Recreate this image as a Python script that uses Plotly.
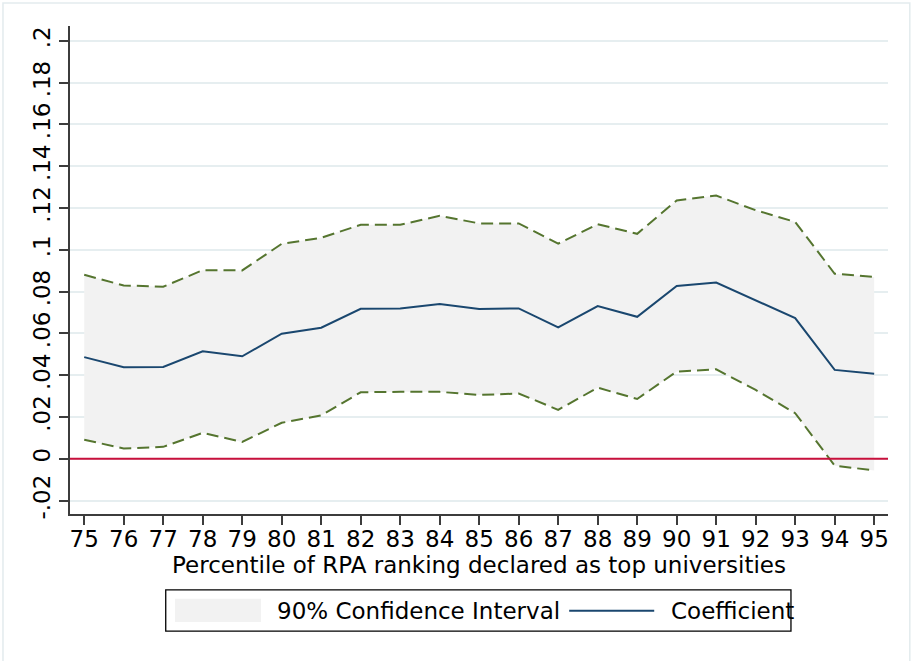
import plotly.graph_objects as go

# ---------------- data ----------------
percentiles = [75, 76, 77, 78, 79, 80, 81, 82, 83, 84, 85, 86, 87, 88, 89, 90, 91, 92, 93, 94, 95]
coefficient = [0.0486, 0.0438, 0.0439, 0.0514, 0.0490, 0.0598, 0.0627, 0.0717, 0.0719, 0.0740,
               0.0716, 0.0719, 0.0628, 0.0730, 0.0679, 0.0826, 0.0843, 0.0759, 0.0673, 0.0425, 0.0407]
ci_upper = [0.0880, 0.0829, 0.0823, 0.0902, 0.0901, 0.1028, 0.1057, 0.1119, 0.1119, 0.1162,
            0.1126, 0.1126, 0.1029, 0.1122, 0.1076, 0.1236, 0.1259, 0.1189, 0.1133, 0.0885, 0.0870]
ci_lower = [0.0091, 0.0049, 0.0057, 0.0124, 0.0080, 0.0172, 0.0207, 0.0318, 0.0320, 0.0320,
            0.0305, 0.0312, 0.0234, 0.0340, 0.0286, 0.0417, 0.0428, 0.0329, 0.0218, -0.0033, -0.0056]
y_tickvals = [-0.02, 0, 0.02, 0.04, 0.06, 0.08, 0.1, 0.12, 0.14, 0.16, 0.18, 0.2]
y_ticktext = ["-.02", "0", ".02", ".04", ".06", ".08", ".1", ".12", ".14", ".16", ".18", ".2"]
x_title = "Percentile of RPA ranking declared as top universities"
legend_labels = ["90% Confidence Interval", "Coefficient"]

# ---------------- styles ----------------
FONT = "DejaVu Sans"
FS = 23
NAVY = "#1A476F"
GREEN = "#55752F"
FILL = "#F2F2F2"
GRID = "#E6EEF0"
AXIS = "#3C3C3C"
RED = "#C8103C"

W, H = 911, 661
PL, PR, PT, PB = 70, 887.7, 26, 514.3   # plot area in pixels


def px2x(px):
    return (px - PL) / (PR - PL)


def px2y(py):
    return (PB - py) / (PB - PT)


fig = go.Figure()

# CI band
fig.add_trace(go.Scatter(x=percentiles, y=ci_upper, mode="lines",
                         line=dict(width=0, color=FILL), hoverinfo="skip", showlegend=False))
fig.add_trace(go.Scatter(x=percentiles, y=ci_lower, mode="lines", fill="tonexty",
                         fillcolor=FILL, line=dict(width=0, color=FILL),
                         name=legend_labels[0], showlegend=False))
# CI bounds (dashed)
fig.add_trace(go.Scatter(x=percentiles, y=ci_upper, mode="lines",
                         line=dict(width=2, color=GREEN, dash="12px,6px"), showlegend=False))
fig.add_trace(go.Scatter(x=percentiles, y=ci_lower, mode="lines",
                         line=dict(width=2, color=GREEN, dash="12px,6px"), showlegend=False))
# coefficient
fig.add_trace(go.Scatter(x=percentiles, y=coefficient, mode="lines",
                         line=dict(width=2, color=NAVY), name=legend_labels[1], showlegend=False))

shapes = [
    # zero reference line
    dict(type="line", xref="paper", yref="y", x0=0, x1=1, y0=0, y1=0,
         line=dict(color=RED, width=2), layer="above"),
    # outer light frame
    dict(type="rect", xref="paper", yref="paper",
         x0=px2x(3), x1=px2x(909.5), y0=px2y(3), y1=px2y(680),
         line=dict(color="#E3EBEE", width=1.5), layer="below"),
    # legend box
    dict(type="rect", xref="paper", yref="paper",
         x0=px2x(165.7), x1=px2x(790.7), y0=px2y(590.3), y1=px2y(631.5),
         line=dict(color="#000000", width=1.3), fillcolor="white", layer="above"),
    # legend swatches
    dict(type="rect", xref="paper", yref="paper",
         x0=px2x(175), x1=px2x(261), y0=px2y(599), y1=px2y(622.3),
         line=dict(width=0), fillcolor=FILL, layer="above"),
    dict(type="line", xref="paper", yref="paper",
         x0=px2x(569), x1=px2x(654), y0=px2y(611), y1=px2y(611),
         line=dict(color=NAVY, width=2), layer="above"),
]

annotations = [
    dict(text=legend_labels[0], xref="paper", yref="paper", x=px2x(274.5), y=px2y(611),
         xanchor="left", yanchor="middle", showarrow=False,
         font=dict(family=FONT, size=FS, color="#000000")),
    dict(text=legend_labels[1], xref="paper", yref="paper", x=px2x(668.5), y=px2y(611),
         xanchor="left", yanchor="middle", showarrow=False,
         font=dict(family=FONT, size=FS, color="#000000")),
]

fig.update_layout(
    width=W, height=H,
    margin=dict(l=PL, r=W - PR, t=PT, b=H - PB, pad=0, autoexpand=False),
    paper_bgcolor="white", plot_bgcolor="white",
    font=dict(family=FONT, size=FS, color="#000000"),
    shapes=shapes, annotations=annotations,
    showlegend=False,
)

fig.update_xaxes(
    range=[74.64, 95.35], tickmode="array", tickvals=percentiles,
    ticks="outside", ticklen=9, tickwidth=1.5, tickcolor=AXIS,
    ticklabelstandoff=-5,
    showline=True, linecolor=AXIS, linewidth=1.5,
    showgrid=False, zeroline=False, automargin=False,
    tickfont=dict(family=FONT, size=FS, color="#000000"),
    title=dict(text=x_title, font=dict(family=FONT, size=FS, color="#000000"), standoff=0),
)
fig.update_yaxes(
    range=[-0.02644, 0.20703], tickmode="array", tickvals=y_tickvals, ticktext=y_ticktext,
    tickangle=-90,
    ticks="outside", ticklen=9, tickwidth=1.5, tickcolor=AXIS,
    showline=True, linecolor=AXIS, linewidth=1.5,
    showgrid=True, gridcolor=GRID, gridwidth=1.6, zeroline=False, automargin=False,
    tickfont=dict(family=FONT, size=FS, color="#000000"),
)

fig.write_html("out.html", config={"displayModeBar": False},
               post_script="document.body.style.margin='0';")
